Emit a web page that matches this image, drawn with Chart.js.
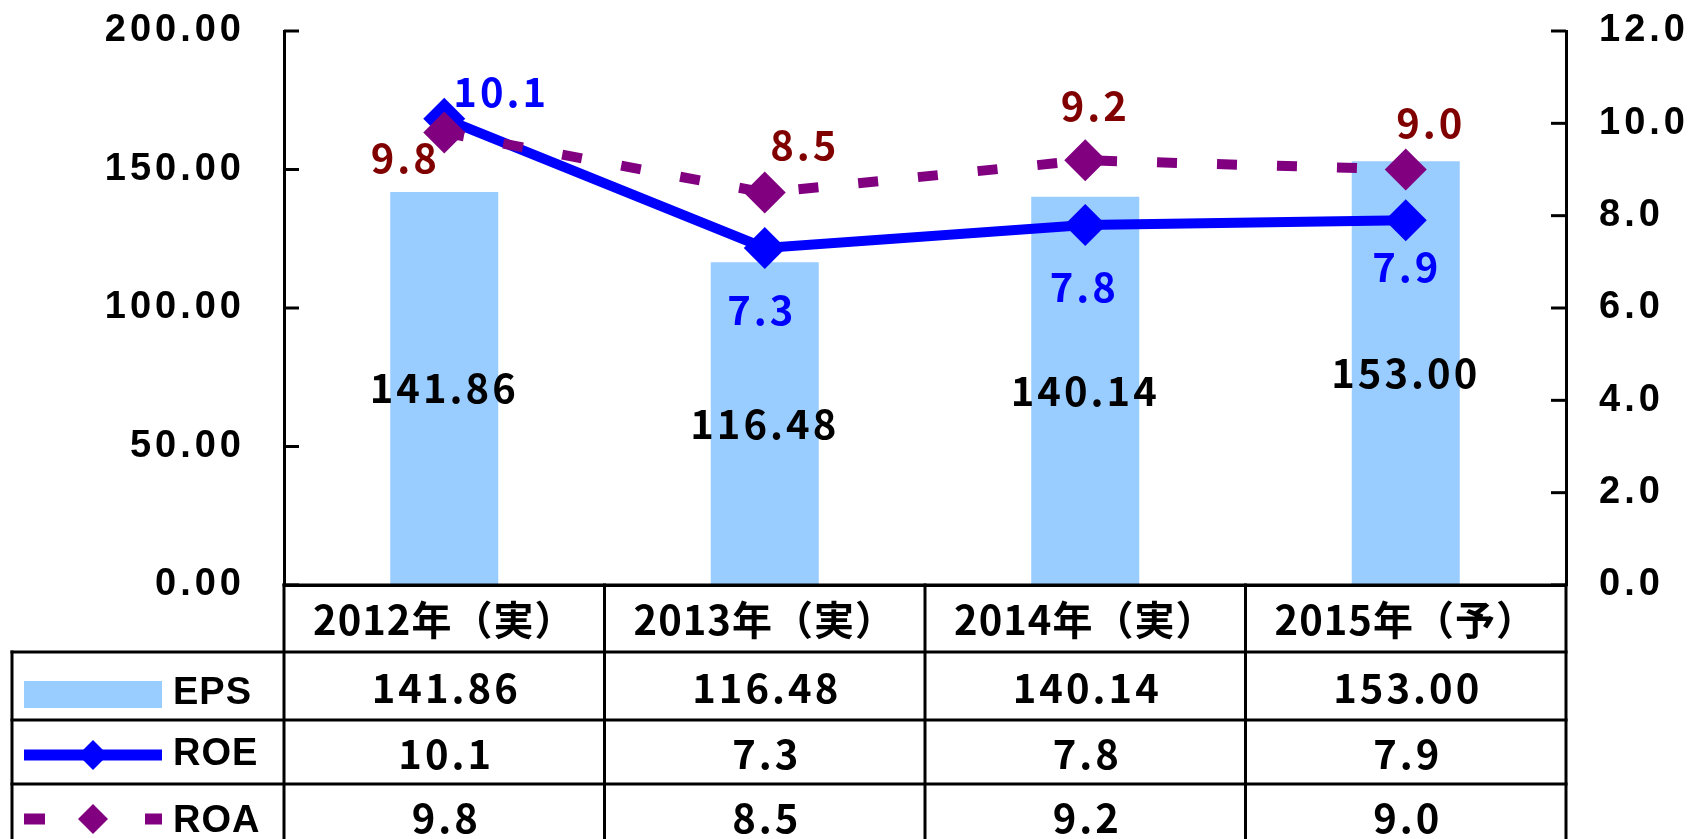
<!DOCTYPE html>
<html>
<head>
<meta charset="utf-8">
<script src="https://cdn.jsdelivr.net/npm/chart.js@4.4.1/dist/chart.umd.min.js"></script>
<style>
html,body{margin:0;padding:0;background:#ffffff;overflow:hidden;}
#c{display:block;}
</style>
</head>
<body>
<canvas id="c" width="1692" height="839"></canvas>
<script>
// ---- data ----
const categories = ['2012年（実）', '2013年（実）', '2014年（実）', '2015年（予）'];
const seriesNames = ['EPS', 'ROE', 'ROA'];
const epsValues = [141.86, 116.48, 140.14, 153.00];
const roeValues = [10.1, 7.3, 7.8, 7.9];
const roaValues = [9.8, 8.5, 9.2, 9.0];
const leftAxis = { min: 0, max: 200, step: 50 };
const rightAxis = { min: 0, max: 12, step: 2 };

// ---- style ----
const EPS_COLOR = '#99CCFF';
const ROE_COLOR = '#0000FF';
const ROA_COLOR = '#800080';
const ROE_LABEL_COLOR = '#0000FF';
const ROA_LABEL_COLOR = '#800000';
const AXIS_FONT = 'Liberation Sans';
const CJK_FONT = '"Noto Sans CJK JP"';
// label offsets from their points (style only)
const roeLabelOffsets = [[57, -27], [-3, 62], [-1, 62], [1, 47]];
const roaLabelOffsets = [[-39, 25], [40, -48], [10, -54], [25, -47]];

function diamond(ctx, x, y, r, color) {
  ctx.beginPath();
  ctx.moveTo(x, y - r); ctx.lineTo(x + r, y); ctx.lineTo(x, y + r); ctx.lineTo(x - r, y);
  ctx.closePath();
  ctx.fillStyle = color; ctx.fill();
}
function line(ctx, x1, y1, x2, y2) {
  ctx.beginPath(); ctx.moveTo(x1, y1); ctx.lineTo(x2, y2); ctx.stroke();
}

const spacingPlugin = {
  id: 'spacing',
  beforeDraw(chart) { chart.ctx.letterSpacing = '4px'; },
  beforeDatasetsDraw(chart) { chart.ctx.letterSpacing = '0px'; }
};

const innerTicksPlugin = {
  id: 'innerTicks',
  afterDraw(chart) {
    const ctx = chart.ctx;
    ctx.save();
    ctx.strokeStyle = '#000'; ctx.lineWidth = 3; ctx.lineCap = 'butt';
    const yl = chart.scales.y, yr = chart.scales.y1;
    yl.ticks.forEach(t => { const p = yl.getPixelForValue(t.value); line(ctx, yl.right, p, yl.right + 15, p); });
    yr.ticks.forEach(t => { const p = yr.getPixelForValue(t.value); line(ctx, yr.left - 15, p, yr.left, p); });
    ctx.restore();
  }
};

const valueLabelsPlugin = {
  id: 'valueLabels',
  afterDatasetsDraw(chart) {
    const ctx = chart.ctx;
    ctx.save();
    ctx.letterSpacing = '3px';
    ctx.font = 'bold 40px ' + CJK_FONT;
    ctx.textAlign = 'center'; ctx.textBaseline = 'middle';
    const bars = chart.getDatasetMeta(0).data;
    bars.forEach((el, i) => {
      ctx.fillStyle = '#000';
      ctx.fillText(epsValues[i].toFixed(2), el.x, (el.y + el.base) / 2);
    });
    chart.getDatasetMeta(1).data.forEach((el, i) => {
      ctx.fillStyle = ROE_LABEL_COLOR;
      ctx.fillText(roeValues[i].toFixed(1), el.x + roeLabelOffsets[i][0], el.y + roeLabelOffsets[i][1]);
    });
    chart.getDatasetMeta(2).data.forEach((el, i) => {
      ctx.fillStyle = ROA_LABEL_COLOR;
      ctx.fillText(roaValues[i].toFixed(1), el.x + roaLabelOffsets[i][0], el.y + roaLabelOffsets[i][1]);
    });
    ctx.restore();
  }
};

const tablePlugin = {
  id: 'dataTable',
  afterDraw(chart) {
    const ctx = chart.ctx, area = chart.chartArea, xs = chart.scales.x;
    const n = categories.length;
    const step = xs.getPixelForValue(1) - xs.getPixelForValue(0);
    const edges = categories.map((_, i) => xs.getPixelForValue(i) - step / 2);
    edges.push(xs.getPixelForValue(n - 1) + step / 2);
    const b = area.bottom;
    const rowY = [b, b + 67, b + 135, b + 199, b + 263];
    const legendLeft = 12;
    ctx.save();
    ctx.letterSpacing = '0px';
    ctx.strokeStyle = '#000'; ctx.lineWidth = 3; ctx.lineCap = 'square';
    line(ctx, edges[0], rowY[0], edges[n], rowY[0]);
    for (let r = 1; r < rowY.length; r++) line(ctx, legendLeft, rowY[r], edges[n], rowY[r]);
    edges.forEach(x => line(ctx, x, rowY[0], x, rowY[4]));
    line(ctx, legendLeft, rowY[1], legendLeft, rowY[4]);

    // header
    ctx.fillStyle = '#000';
    ctx.textAlign = 'center'; ctx.textBaseline = 'middle';
    ctx.letterSpacing = '1px';
    ctx.font = 'bold 40px ' + CJK_FONT;
    categories.forEach((c, i) => ctx.fillText(c, xs.getPixelForValue(i), (rowY[0] + rowY[1]) / 2 + 1));

    // values
    const rows = [
      epsValues.map(v => v.toFixed(2)),
      roeValues.map(v => v.toFixed(1)),
      roaValues.map(v => v.toFixed(1))
    ];
    ctx.letterSpacing = '3px';
    ctx.font = 'bold 40px ' + CJK_FONT;
    rows.forEach((vals, r) => {
      const cy = (rowY[r + 1] + rowY[r + 2]) / 2 + 2;
      vals.forEach((t, i) => ctx.fillText(t, xs.getPixelForValue(i) + 2, cy));
    });

    // legend keys
    ctx.letterSpacing = '1px';
    const c1 = (rowY[1] + rowY[2]) / 2 + 8;
    const c2 = (rowY[2] + rowY[3]) / 2 + 3;
    const c3 = (rowY[3] + rowY[4]) / 2 + 3;
    ctx.fillStyle = EPS_COLOR;
    ctx.fillRect(24, c1 - 13, 138, 27);
    ctx.strokeStyle = ROE_COLOR; ctx.lineWidth = 11; ctx.lineCap = 'butt';
    line(ctx, 24, c2, 162, c2);
    diamond(ctx, 93, c2, 15, ROE_COLOR);
    ctx.strokeStyle = ROA_COLOR; ctx.lineWidth = 11;
    ctx.setLineDash([21, 100]);
    line(ctx, 24, c3, 162, c3);
    ctx.setLineDash([]);
    diamond(ctx, 93, c3, 15, ROA_COLOR);

    ctx.fillStyle = '#000';
    ctx.textAlign = 'left';
    ctx.font = 'bold 38px ' + AXIS_FONT;
    ctx.fillText(seriesNames[0], 173, c1);
    ctx.fillText(seriesNames[1], 173, c2);
    ctx.fillText(seriesNames[2], 173, c3 + 3);
    ctx.restore();
  }
};

const axisFont = { family: AXIS_FONT, size: 38, weight: 'bold', lineHeight: 1.0 };

new Chart(document.getElementById('c'), {
  type: 'bar',
  data: {
    labels: categories,
    datasets: [
      {
        type: 'bar', label: seriesNames[0], data: epsValues, yAxisID: 'y',
        backgroundColor: EPS_COLOR, borderWidth: 0,
        barPercentage: 0.337, categoryPercentage: 1.0, order: 3
      },
      {
        type: 'line', label: seriesNames[1], data: roeValues, yAxisID: 'y1',
        borderColor: ROE_COLOR, borderWidth: 10, tension: 0, fill: false,
        pointStyle: 'rectRot', pointRadius: 21, pointBorderWidth: 0,
        pointBackgroundColor: ROE_COLOR, pointBorderColor: ROE_COLOR, order: 2
      },
      {
        type: 'line', label: seriesNames[2], data: roaValues, yAxisID: 'y1',
        borderColor: ROA_COLOR, borderWidth: 10, borderDash: [20, 40], tension: 0, fill: false,
        pointStyle: 'rectRot', pointRadius: 21, pointBorderWidth: 0,
        pointBackgroundColor: ROA_COLOR, pointBorderColor: ROA_COLOR, order: 1
      }
    ]
  },
  options: {
    responsive: false,
    animation: false,
    devicePixelRatio: 1,
    layout: { padding: { top: 31, left: 0, right: 0, bottom: 0 } },
    plugins: { legend: { display: false }, tooltip: { enabled: false } },
    scales: {
      x: {
        position: 'bottom',
        grid: { display: false, drawTicks: false },
        border: { display: true, color: '#000', width: 3 },
        ticks: { display: false },
        afterFit: s => { s.height = 254; }
      },
      y: {
        position: 'left', min: leftAxis.min, max: leftAxis.max,
        grid: { drawOnChartArea: false, drawTicks: false },
        border: { display: true, color: '#000', width: 3 },
        ticks: { stepSize: leftAxis.step, callback: v => Number(v).toFixed(2), font: axisFont, color: '#000', padding: 39 },
        afterFit: s => { s.width = 284; s.paddingTop = 0; s.paddingBottom = 0; }
      },
      y1: {
        position: 'right', min: rightAxis.min, max: rightAxis.max,
        grid: { drawOnChartArea: false, drawTicks: false },
        border: { display: true, color: '#000', width: 3 },
        ticks: { stepSize: rightAxis.step, callback: v => Number(v).toFixed(1), font: axisFont, color: '#000', padding: 33 },
        afterFit: s => { s.width = 126; s.paddingTop = 0; s.paddingBottom = 0; }
      }
    }
  },
  plugins: [spacingPlugin, innerTicksPlugin, valueLabelsPlugin, tablePlugin]
});
</script>
</body>
</html>
